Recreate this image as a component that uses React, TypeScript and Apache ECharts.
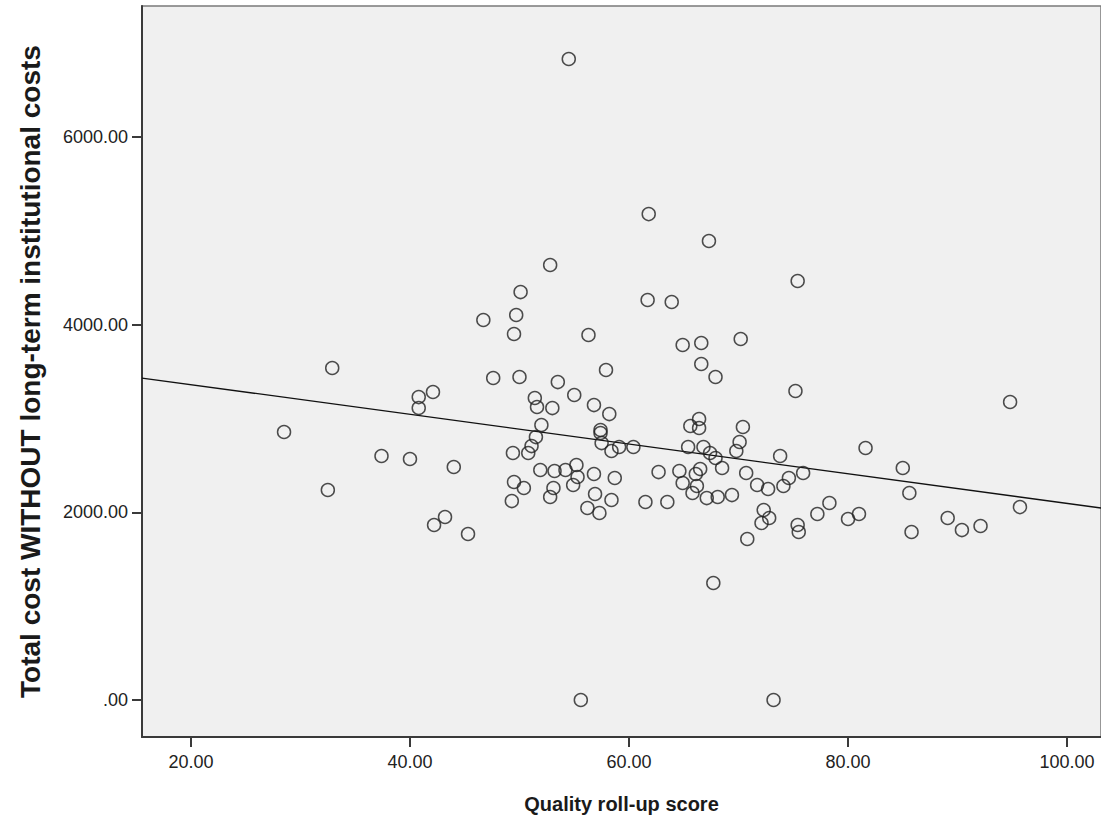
import React, { useEffect, useRef } from "react";
import * as echarts from "echarts";

const xTicks = [20, 40, 60, 80, 100];
const yTicks = [0, 2000, 4000, 6000];

const qualityScore = [
  54.5, 61.8, 67.3, 52.8, 75.4, 50.1, 61.7, 63.9,
  32.9, 40.8, 42.1, 40.8, 28.5, 37.4, 40.0, 44.0, 32.5, 43.2, 42.2, 45.3,
  46.7, 49.7, 49.5, 56.3, 57.9, 47.6, 50.0, 53.5, 55.0, 51.4, 51.6, 53.0, 56.8, 58.2,
  52.0, 57.4, 57.4, 51.5, 51.1, 50.8, 49.4, 57.5, 58.4, 59.1, 60.4,
  51.9, 53.2, 54.2, 55.2, 55.3, 54.9, 56.8, 58.7, 62.7, 49.5, 50.4, 53.1, 52.8, 49.3,
  56.9, 58.4, 56.2, 57.3, 61.5,
  64.9, 66.6, 70.2, 66.6, 67.9, 75.2, 65.6, 66.4, 66.4, 70.4, 70.1, 69.8, 65.4, 66.8,
  67.4, 67.9, 68.5, 73.8, 64.6, 66.1, 66.5, 70.7, 75.9, 74.6, 74.1, 71.7, 72.7, 64.9,
  66.2, 65.8, 67.1, 68.1, 69.4, 63.5, 72.3, 72.8, 72.1, 75.4, 75.5, 77.2, 78.3, 80.0,
  81.0, 70.8,
  94.8, 81.6, 85.0, 85.6, 85.8, 89.1, 90.4, 92.1, 95.7,
  67.7, 55.6, 73.2,
];

const totalCost = [
  6830, 5178, 4891, 4635, 4465, 4347, 4262, 4241,
  3538, 3228, 3282, 3111, 2856, 2600, 2568, 2483, 2238, 1950, 1865, 1769,
  4049, 4102, 3900, 3889, 3516, 3431, 3442, 3388, 3250, 3218, 3122, 3111, 3143, 3047,
  2930, 2877, 2845, 2802, 2706, 2632, 2632, 2738, 2653, 2696, 2696,
  2451, 2440, 2451, 2504, 2376, 2291, 2408, 2366, 2429, 2323, 2259, 2259, 2163, 2120,
  2195, 2131, 2046, 1993, 2110,
  3783, 3804, 3847, 3580, 3442, 3293, 2920, 2994, 2898, 2909, 2749, 2653, 2696, 2696,
  2632, 2579, 2472, 2600, 2440, 2408, 2461, 2419, 2419, 2366, 2280, 2291, 2248, 2312,
  2280, 2206, 2152, 2163, 2184, 2110, 2024, 1939, 1886, 1865, 1790, 1982, 2099, 1929,
  1982, 1716,
  3175, 2685, 2472, 2206, 1790, 1939, 1811, 1854, 2056,
  1247, 0, 0,
];

const fitLineX = [15.53, 103.1];
const fitLineY = [3431, 2046];

const xTitle = "Quality roll-up score";
const yTitle = "Total cost WITHOUT long-term institutional costs";

const fmt = (v: number) => {
  const s = Number(v).toFixed(2);
  return s.startsWith("0.") ? s.slice(1) : s;
};

const FONT = "Liberation Sans, Arial, sans-serif";

export default function App() {
  const ref = useRef<HTMLDivElement>(null);
  useEffect(() => {
    if (!ref.current) return;
    const chart = echarts.init(ref.current, undefined, { renderer: "svg" });
    const points = qualityScore.map((x, i) => [x, totalCost[i]]);
    const fit = fitLineX.map((x, i) => [x, fitLineY[i]]);
    chart.setOption({
      animation: false,
      backgroundColor: "#ffffff",
      textStyle: { fontFamily: FONT },
      grid: {
        left: 142,
        top: 6,
        right: -2,
        bottom: 84,
        show: true,
        backgroundColor: "#f0f0f0",
        borderColor: "#7a7a7a",
        borderWidth: 1.5,
      },
      xAxis: {
        type: "value",
        min: 15.53,
        max: 103.1,
        name: xTitle,
        nameLocation: "middle",
        nameGap: 57,
        nameTextStyle: {
          fontSize: 20,
          fontWeight: "bold",
          color: "#1a1a1a",
          fontFamily: FONT,
        },
        splitLine: { show: false },
        axisLine: { show: true, onZero: false, lineStyle: { color: "#3a3a3a", width: 2 } },
        axisTick: {
          show: true,
          customValues: xTicks,
          length: 10,
          lineStyle: { color: "#3a3a3a", width: 2 },
        },
        axisLabel: {
          customValues: xTicks,
          formatter: fmt,
          fontSize: 18,
          color: "#222222",
          margin: 16,
          fontFamily: FONT,
        },
      },
      yAxis: {
        type: "value",
        min: -394,
        max: 7395,
        name: yTitle,
        nameLocation: "middle",
        nameGap: 98,
        nameRotate: 90,
        nameTextStyle: {
          fontSize: 28,
          fontWeight: "bold",
          color: "#1a1a1a",
          fontFamily: FONT,
        },
        splitLine: { show: false },
        axisLine: { show: true, onZero: false, lineStyle: { color: "#3a3a3a", width: 2 } },
        axisTick: {
          show: true,
          customValues: yTicks,
          length: 10,
          lineStyle: { color: "#3a3a3a", width: 2 },
        },
        axisLabel: {
          customValues: yTicks,
          formatter: fmt,
          fontSize: 18,
          color: "#222222",
          margin: 14,
          fontFamily: FONT,
        },
      },
      series: [
        {
          type: "line",
          data: fit,
          symbol: "none",
          lineStyle: { color: "#111111", width: 1.3 },
          silent: true,
          z: 2,
        },
        {
          type: "scatter",
          data: points,
          symbol: "circle",
          symbolSize: 13,
          itemStyle: {
            color: "rgba(0,0,0,0)",
            borderColor: "#222222",
            borderWidth: 1.5,
          },
          z: 3,
        },
      ],
    });
    return () => chart.dispose();
  }, []);
  return (
    <div
      ref={ref}
      style={{ position: "fixed", left: 0, top: 0, width: 1101, height: 821 }}
    />
  );
}
